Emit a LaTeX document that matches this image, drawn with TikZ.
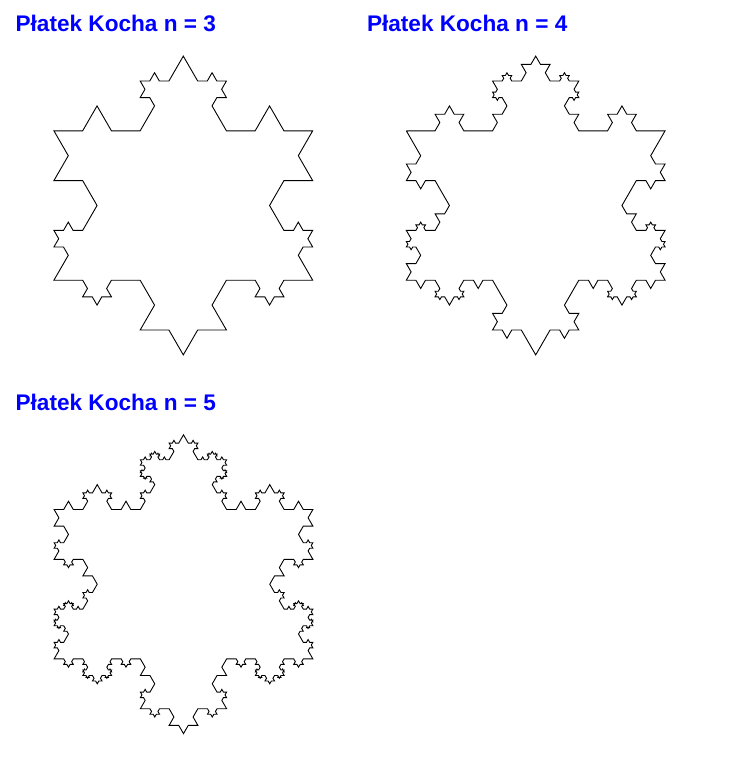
\documentclass[tikz,border=0pt]{standalone}
\usepackage{fontspec}
\setmainfont{Liberation Sans}
\newdimen\kx
\newdimen\ky
\newcount\kdir
\def\kstep#1{%
  \ifcase\kdir
    \global\advance\kx by \dimexpr#1\relax
  \or
    \global\advance\kx by 0.5\dimexpr#1\relax
    \global\advance\ky by 0.8660254\dimexpr#1\relax
  \or
    \global\advance\kx by -0.5\dimexpr#1\relax
    \global\advance\ky by 0.8660254\dimexpr#1\relax
  \or
    \global\advance\kx by -\dimexpr#1\relax
  \or
    \global\advance\kx by -0.5\dimexpr#1\relax
    \global\advance\ky by -0.8660254\dimexpr#1\relax
  \or
    \global\advance\kx by 0.5\dimexpr#1\relax
    \global\advance\ky by -0.8660254\dimexpr#1\relax
  \fi
  \pgfpathlineto{\pgfqpoint{\kx}{\ky}}%
}
\def\kturn#1{%
  \global\advance\kdir by #1\relax
  \ifnum\kdir<0 \global\advance\kdir by 6\relax\fi
  \ifnum\kdir>5 \global\advance\kdir by -6\relax\fi
}
\def\kseg#1#2{%
  \ifnum\numexpr#1\relax<1
    \kstep{#2}%
  \else
    \kseg{(#1)-2}{(#2)/3}\kturn{1}%
    \kseg{(#1)-1}{(#2)/3}\kturn{-2}%
    \kseg{(#1)-1}{(#2)/3}\kturn{1}%
    \kseg{(#1)-2}{(#2)/3}%
  \fi
}
% #1 depth, #2 centre x, #3 centre y (screen, y downward), #4 radius
\def\kflake#1#2#3#4{%
  \global\kx=\dimexpr #2pt - 0.8660254\dimexpr #4pt\relax\relax
  \global\ky=\dimexpr -#3pt + 0.5\dimexpr #4pt\relax\relax
  \global\kdir=0\relax
  \pgfpathmoveto{\pgfqpoint{\kx}{\ky}}%
  \kseg{#1}{1.7320508\dimexpr #4pt\relax}\kturn{-2}%
  \kseg{#1}{1.7320508\dimexpr #4pt\relax}\kturn{-2}%
  \kseg{#1}{1.7320508\dimexpr #4pt\relax}%
  \pgfpathclose
  \pgfusepath{stroke}%
}
\tikzset{
  title/.style={anchor=base west, inner sep=0pt, text=blue,
    font=\bfseries\fontsize{22.6}{26}\selectfont}
}
\begin{document}
\begin{tikzpicture}[x=1pt,y=-1pt]
  \fill[white] (0,0) rectangle (736,761);
  \useasboundingbox (0,0) rectangle (736,761);
  \node[title] (t3) at (15.4,31.3) {Płatek Kocha n = 3};
  \node[title] (t4) at (366.8,31.3) {Płatek Kocha n = 4};
  \node[title] (t5) at (15.4,410.8) {Płatek Kocha n = 5};
  \begin{scope}[line width=0.9pt, draw=black, line join=miter]
    \pgfsetlinewidth{0.9pt}
    \kflake{3}{183.3}{205.5}{149.4}
    \kflake{4}{535.7}{205.5}{149.4}
    \kflake{5}{183.5}{584.2}{149.4}
  \end{scope}
\end{tikzpicture}
\end{document}
